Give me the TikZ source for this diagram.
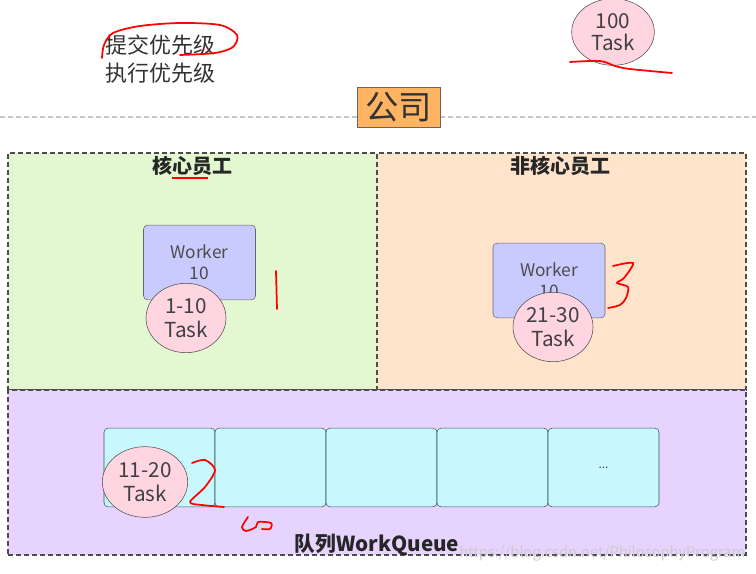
\documentclass[tikz,border=0pt]{standalone}
\usepackage{fontspec}
\setmainfont{Noto Sans CJK SC}
\usepackage{xcolor}
\usetikzlibrary{shapes.geometric, positioning}

\definecolor{greenbg}{HTML}{E3F8D0}
\definecolor{orangebg}{HTML}{FFE3CB}
\definecolor{purplebg}{HTML}{E6D4FF}
\definecolor{workerblue}{HTML}{C9CBFF}
\definecolor{taskpink}{HTML}{FFD5E1}
\definecolor{cellcyan}{HTML}{C8F8FD}
\definecolor{orangebox}{HTML}{FFB463}
\definecolor{ink}{HTML}{333333}

\begin{document}
\begin{tikzpicture}[
  x=0.75pt, y=-0.75pt,
  region/.style={rectangle, draw=black!70, dash pattern=on 4pt off 2pt,
                 line width=0.8pt, inner sep=0pt},
  regtitle/.style={font=\fontsize{15}{18}\selectfont\bfseries, text=black!85},
  prio/.style={font=\fontsize{16.5}{21}\selectfont, text=ink},
  workerbox/.style={rectangle, draw=black!60, fill=workerblue, rounded corners=3pt,
                    minimum width=84pt, minimum height=56pt, align=center,
                    font=\fontsize{13}{15.5}\selectfont, text=black!70},
  taskball/.style={ellipse, draw=black!70, fill=taskpink, inner sep=0pt,
                   minimum width=60pt, minimum height=52pt, align=center,
                   font=\fontsize{15.5}{18.5}\selectfont, text=black!75},
  qcell/.style={rectangle, draw=black!50!teal!60!gray, fill=cellcyan, rounded corners=3pt,
                minimum width=83.25pt, minimum height=59pt},
  pen/.style={red, line width=1.3pt, line cap=round, line join=round}
]
\useasboundingbox (0,0) rectangle (756,574);
\fill[white] (0,0) rectangle (756,574);

% priorities
\node[prio] (submit) at (160,45) {提交优先级};
\node[prio] (run) at (160,73) {执行优先级};

% incoming tasks
\node[taskball, minimum width=62pt, minimum height=50pt,
      font=\fontsize{15.5}{17}\selectfont] (total) at (613,32) {100\\Task};

% company
\draw[gray!45, dash pattern=on 4pt off 2pt, line width=0.8pt] (0,117) -- (756,117);
\node[rectangle, draw=black!60, fill=orangebox, minimum width=62pt, minimum height=30pt,
      font=\fontsize{25}{27}\selectfont, text=ink] (company) at (398.5,107) {公司};

% regions
\node[region, fill=greenbg, minimum width=276.75pt, minimum height=177.75pt] (core) at (192.5,271.5) {};
\node[region, fill=orangebg, minimum width=276.75pt, minimum height=177.75pt] (noncore) at (561.5,271.5) {};
\node[region, fill=purplebg, minimum width=553.5pt, minimum height=123.75pt] (queue) at (377,472.5) {};

\node[regtitle] (coretitle) at (192,166) {核心员工};
\node[regtitle] (noncoretitle) at (560,166) {非核心员工};
\node[regtitle, font=\fontsize{15.5}{18}\selectfont\bfseries] (queuetitle) at (377,545) {队列WorkQueue};

% workers
\node[workerbox] (worker1) at (199.5,262.5) {Worker\\10};
\node[taskball] (task1) at (186,318) {1-10\\Task};
\node[workerbox] (worker2) at (549,280.5) {Worker\\10};
\node[taskball] (task2) at (553,327) {21-30\\Task};

% queue
\foreach \i in {0,...,4}
  \node[qcell] (cell\i) at (159.5+111*\i,467.5) {};
\node[font=\fontsize{9}{10}\selectfont, text=black!70] (dots) at (cell4.center) {...};
\node[taskball, minimum width=64pt, minimum height=53pt] (task3) at (145,482) {11-20\\Task};

% watermark
\node[anchor=east, font=\fontsize{11}{13}\selectfont, text=gray!40] (mark) at (750,553) {https://blog.csdn.net/PhilosophyProgram};

% handwriting
\draw[pen] plot[smooth] coordinates {(102,58) (104,45) (113,33) (140,26) (180,23) (220,25) (237,35) (233,47) (215,53) (180,55)};
\draw[pen] plot[smooth] coordinates {(570,62) (600,61) (615,66) (630,69) (672,73)};
\draw[red, line width=2.2pt] (172,178) -- (208,178);
\draw[pen] (276,271) -- (277,309);
\draw[pen] plot[smooth] coordinates {(613,266) (633,263) (624,278) (617,283) (628,287) (626,298) (620,305) (608,308)};
\draw[pen] plot[smooth] coordinates {(192,463) (205,460) (215,470) (205,487) (190,502) (202,505) (224,507)};
\draw[pen] plot[smooth] coordinates {(248,517) (242,527) (246,531) (256,527) (258,522) (271,523) (270,529) (262,529)};
\end{tikzpicture}
\end{document}
